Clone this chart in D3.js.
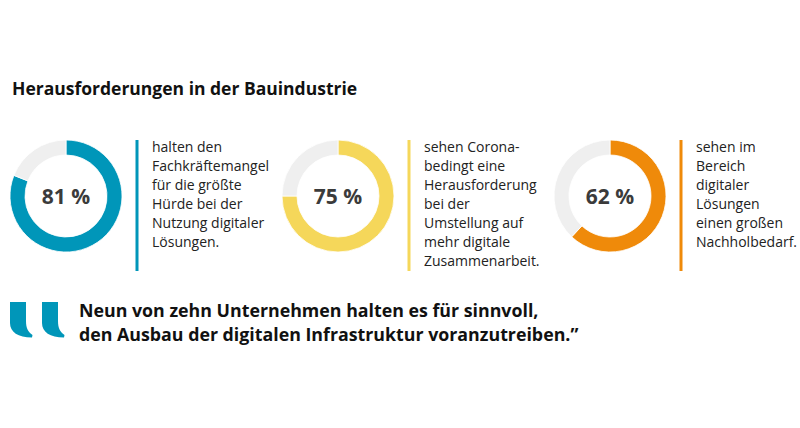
<!DOCTYPE html>
<html><head><meta charset="utf-8">
<script src="https://cdn.jsdelivr.net/npm/d3@7"></script>
<style>
html,body{margin:0;padding:0;background:#fff;}
svg{display:block;font-family:"Open Sans",sans-serif;}
</style></head>
<body>
<svg id="c" width="800" height="428"></svg>
<script>
const title = "Herausforderungen in der Bauindustrie";
const values = [81, 75, 62];
const labels = ["81 %", "75 %", "62 %"];
const colors = ["#0096b9", "#f5d75a", "#ef8a0a"];
const texts = [
  ["halten den", "Fachkräftemangel", "für die größte", "Hürde bei der", "Nutzung digitaler", "Lösungen."],
  ["sehen Corona-", "bedingt eine", "Herausforderung", "bei der", "Umstellung auf", "mehr digitale", "Zusammenarbeit."],
  ["sehen im", "Bereich", "digitaler", "Lösungen", "einen großen", "Nachholbedarf."]
];
const quoteLines = ["Neun von zehn Unternehmen halten es für sinnvoll,", "den Ausbau der digitalen Infrastruktur voranzutreiben.”"];

const svg = d3.select("#c");
svg.append("text").attr("x", 12).attr("y", 95).attr("font-size", 17.5).attr("font-weight", 700)
  .attr("fill", "#111").text(title);

const x = d3.scaleLinear().domain([0, 2]).range([66, 610]);
const pie = d3.pie().sort(null).value(d => d);
const arc = d3.arc().innerRadius(41).outerRadius(56);
const cy = 196;

values.forEach((v, i) => {
  const cx = x(i);
  const g = svg.append("g").attr("transform", `translate(${cx},${cy})`);
  g.selectAll("path").data(pie([v, 100 - v])).join("path")
    .attr("d", arc)
    .attr("fill", (d, j) => j === 0 ? colors[i] : "#efefef")
    .attr("stroke", "#fff").attr("stroke-width", 0.8);
  g.append("text").attr("text-anchor", "middle").attr("y", 7.5)
    .attr("font-size", 21).attr("font-weight", 700).attr("fill", "#3b3b3b").text(labels[i]);
  const lx = cx + 71;
  svg.append("rect").attr("x", lx - 1.5).attr("y", 140).attr("width", 3).attr("height", 131).attr("fill", colors[i]);
  const t = svg.append("text").attr("x", lx + 15).attr("y", 152).attr("font-size", 14).attr("fill", "#222");
  t.selectAll("tspan").data(texts[i]).join("tspan")
    .attr("x", lx + 15).attr("dy", (d, j) => j === 0 ? 0 : 19).text(d => d);
});

// quote marks
const qPath = "M0,0 H16 V19 C16,26 18,30 22.5,33 L22,35.5 C8,35.5 0,30 0,21 Z";
[10, 42].forEach(qx => {
  svg.append("path").attr("d", qPath).attr("transform", `translate(${qx},302)`).attr("fill", "#0096b9");
});
const q = svg.append("text").attr("x", 79).attr("y", 317).attr("font-size", 17.8).attr("font-weight", 700).attr("fill", "#111");
q.selectAll("tspan").data(quoteLines).join("tspan").attr("x", 79).attr("dy", (d, j) => j === 0 ? 0 : 24).text(d => d);
</script>
</body></html>
